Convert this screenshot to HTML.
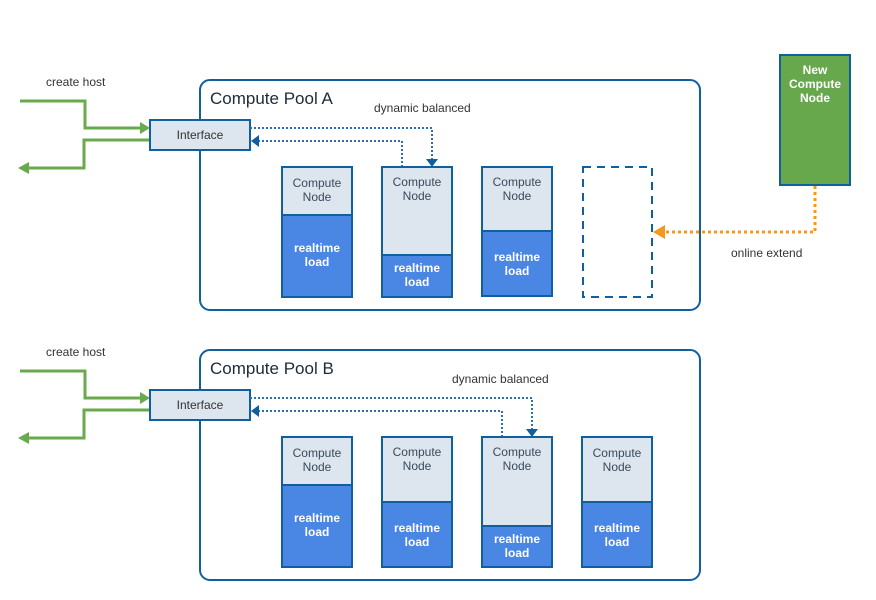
<!DOCTYPE html>
<html><head><meta charset="utf-8"><style>
html,body{margin:0;padding:0;background:#fff;}
svg{display:block;}
text{font-family:"Liberation Sans",Arial,sans-serif;}
</style></head><body>
<svg width="876" height="600" viewBox="0 0 876 600" xmlns="http://www.w3.org/2000/svg">
<defs>
<g id="node"></g>
</defs>
<!-- Pools -->
<rect x="200" y="80" width="500" height="230" rx="10" fill="#fff" stroke="#10609f" stroke-width="2"/>
<rect x="200" y="350" width="500" height="230" rx="10" fill="#fff" stroke="#10609f" stroke-width="2"/>
<text x="210" y="104" font-size="17" fill="#1c2a3a">Compute Pool A</text>
<text x="210" y="374" font-size="17" fill="#1c2a3a">Compute Pool B</text>

<!-- labels -->
<g font-size="12" fill="#333">
<text x="46" y="86">create host</text>
<text x="46" y="356">create host</text>
<text x="374" y="112">dynamic balanced</text>
<text x="452" y="383">dynamic balanced</text>
<text x="731" y="257">online extend</text>
</g>

<!-- green arrows -->
<g fill="none" stroke="#6aaa4e" stroke-width="3">
<polyline points="20,101 85,101 85,128 142,128"/>
<polyline points="150,140 84,140 84,168 28,168"/>
<polyline points="20,371 85,371 85,398 142,398"/>
<polyline points="150,410 84,410 84,438 28,438"/>
</g>
<g fill="#6aaa4e">
<polygon points="150,128 140,122 140,134"/>
<polygon points="18,168 29,162 29,174"/>
<polygon points="150,398 140,392 140,404"/>
<polygon points="18,438 29,432 29,444"/>
</g>

<!-- Interfaces -->
<g fill="#dde5ef" stroke="#10609f" stroke-width="2">
<rect x="150" y="120" width="100" height="30"/>
<rect x="150" y="390" width="100" height="30"/>
</g>
<g font-size="12" fill="#333" text-anchor="middle">
<text x="200" y="139">Interface</text>
<text x="200" y="409">Interface</text>
</g>

<!-- blue dotted -->
<g fill="none" stroke="#2c6fb5" stroke-width="2" stroke-dasharray="2,2">
<polyline points="250,128 432,128 432,160"/>
<polyline points="402,167 402,141 258,141"/>
<polyline points="250,398 532,398 532,430"/>
<polyline points="502,437 502,411 258,411"/>
</g>
<g fill="#10609f">
<polygon points="432,167 426,159 438,159"/>
<polygon points="251,141 259,135 259,147"/>
<polygon points="532,437 526,429 538,429"/>
<polygon points="251,411 259,405 259,417"/>
</g>

<!-- nodes: light part + dark part -->
<g stroke="#10609f" stroke-width="2">
<!-- A -->
<rect x="282" y="167" width="70" height="48" fill="#dde5ef"/>
<rect x="282" y="215" width="70" height="82" fill="#4a86e4"/>
<rect x="382" y="167" width="70" height="88" fill="#dde5ef"/>
<rect x="382" y="255" width="70" height="42" fill="#4a86e4"/>
<rect x="482" y="167" width="70" height="64" fill="#dde5ef"/>
<rect x="482" y="231" width="70" height="65" fill="#4a86e4"/>
<!-- B -->
<rect x="282" y="437" width="70" height="48" fill="#dde5ef"/>
<rect x="282" y="485" width="70" height="82" fill="#4a86e4"/>
<rect x="382" y="437" width="70" height="65" fill="#dde5ef"/>
<rect x="382" y="502" width="70" height="65" fill="#4a86e4"/>
<rect x="482" y="437" width="70" height="89" fill="#dde5ef"/>
<rect x="482" y="526" width="70" height="41" fill="#4a86e4"/>
<rect x="582" y="437" width="70" height="65" fill="#dde5ef"/>
<rect x="582" y="502" width="70" height="65" fill="#4a86e4"/>
</g>
<rect x="583" y="167" width="69" height="130" fill="none" stroke="#10609f" stroke-width="2" stroke-dasharray="8,6"/>

<g font-size="12" fill="#3a4a5a" text-anchor="middle">
<text x="317" y="187">Compute</text><text x="317" y="201">Node</text>
<text x="417" y="186">Compute</text><text x="417" y="200">Node</text>
<text x="517" y="186">Compute</text><text x="517" y="200">Node</text>
<text x="317" y="457">Compute</text><text x="317" y="471">Node</text>
<text x="417" y="456">Compute</text><text x="417" y="470">Node</text>
<text x="517" y="456">Compute</text><text x="517" y="470">Node</text>
<text x="617" y="457">Compute</text><text x="617" y="471">Node</text>
</g>
<g font-size="12" fill="#fff" font-weight="bold" text-anchor="middle">
<text x="317" y="252">realtime</text><text x="317" y="266">load</text>
<text x="417" y="272">realtime</text><text x="417" y="286">load</text>
<text x="517" y="261">realtime</text><text x="517" y="275">load</text>
<text x="317" y="522">realtime</text><text x="317" y="536">load</text>
<text x="417" y="532">realtime</text><text x="417" y="546">load</text>
<text x="517" y="543">realtime</text><text x="517" y="557">load</text>
<text x="617" y="532">realtime</text><text x="617" y="546">load</text>
</g>

<!-- New compute node -->
<rect x="780" y="55" width="70" height="130" fill="#67a84c" stroke="#10609f" stroke-width="2"/>
<g font-size="12" fill="#fff" font-weight="bold" text-anchor="middle">
<text x="815" y="74">New</text><text x="815" y="88">Compute</text><text x="815" y="102">Node</text>
</g>
<polyline points="815,186 815,232 663,232" fill="none" stroke="#f7981d" stroke-width="3" stroke-dasharray="3,3"/>
<polygon points="653,232 665,225 665,239" fill="#f7981d"/>
</svg>
</body></html>
